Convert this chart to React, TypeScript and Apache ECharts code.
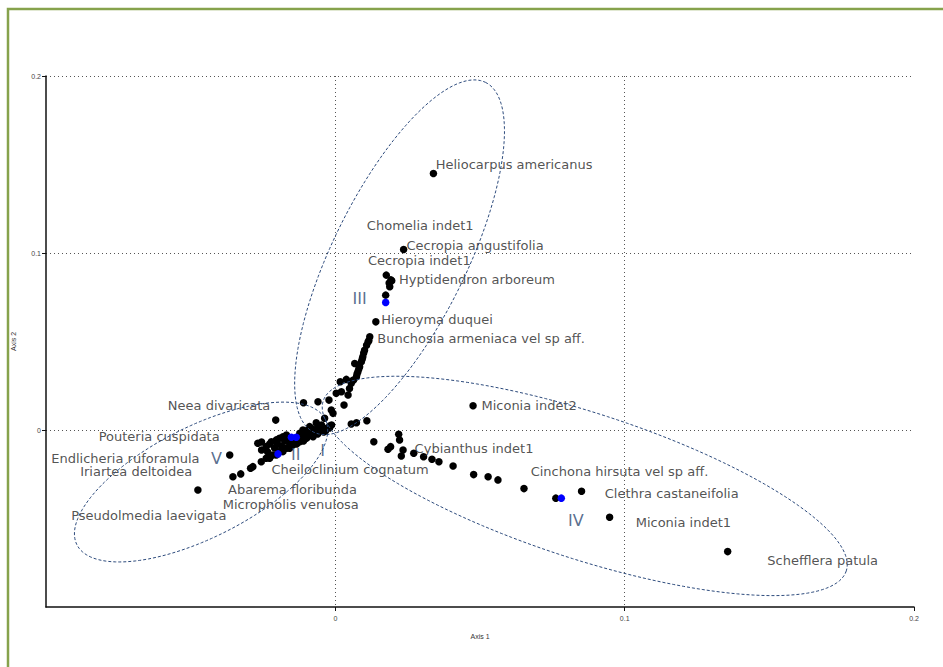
import React, { useEffect, useRef } from "react";
import * as echarts from "echarts";

// Species scores (Axis 1, Axis 2)
const pointX = [
  0.0339, 0.0236, 0.0176, 0.0195, 0.0186, 0.0188, 0.0192, 0.0174, 0.014, 0.0119, 0.0116, 0.0113, 0.0108,
  0.0101, 0.0098, 0.0095, 0.0093, 0.009, 0.0084, 0.0081, 0.0078, 0.0075, 0.0067, 0.0073, 0.0063, 0.0058,
  0.0055, 0.0049, 0.0038, 0.0017, 0.0021, 0.0003, 0.0044, -0.0022, 0.003, -0.006, -0.011, -0.0014, -0.0008,
  -0.0037, -0.0066, 0.0055, 0.0073, 0.0109, 0.0476, 0.0133, 0.0182, 0.0191, 0.0219, 0.0222, 0.0234, 0.0228,
  0.0271, 0.0305, 0.0334, 0.0358, 0.0407, 0.0478, 0.0528, 0.0562, 0.0652, 0.0762, 0.0851, 0.0948, 0.1356,
  -0.0206, -0.0365, -0.0354, -0.0327, -0.0293, -0.0285, -0.0475,
  -0.0268, -0.0255, -0.0239, -0.0221, -0.0204, -0.0193, -0.0181, -0.0169, -0.0161, -0.0123, -0.0106, -0.0095,
  -0.0083, -0.0072, -0.006, -0.0048, -0.0031, -0.0112, -0.0089, -0.0144, -0.0175, -0.0123, -0.011, -0.0096,
  -0.0082, -0.0077, -0.01, -0.0123, -0.0147, -0.0169, -0.0193, -0.0216, -0.0239, -0.0256, -0.0227, -0.0204,
  -0.0181, -0.0158, -0.0134, -0.011, -0.002, -0.0047, -0.0068, -0.0061, -0.004,
  -0.0255, -0.0234, -0.021, -0.0186, -0.0158, -0.0137, -0.0227, -0.02, -0.0165, -0.0117, -0.0096, -0.0075,
  -0.0054, -0.0034, -0.002, -0.0013,
];
const pointY = [
  0.1449, 0.102, 0.0875, 0.0843, 0.083, 0.0809, 0.0848, 0.0762, 0.0611, 0.0527, 0.0505, 0.0497, 0.0479,
  0.0451, 0.0435, 0.0414, 0.0401, 0.0385, 0.0357, 0.0344, 0.0329, 0.0316, 0.0376, 0.0301, 0.0282, 0.0277,
  0.0264, 0.0235, 0.0286, 0.0273, 0.0216, 0.0207, 0.0198, 0.0169, 0.0141, 0.016, 0.0154, 0.0113, 0.0094,
  0.0066, 0.0041, 0.0034, 0.0041, 0.0052, 0.0137, -0.0066, -0.0109, -0.0094, -0.0024, -0.0056, -0.0113, -0.0147,
  -0.0131, -0.0151, -0.0165, -0.0179, -0.0203, -0.0252, -0.0264, -0.0282, -0.0331, -0.0385, -0.0346, -0.0493, -0.0687,
  0.0056, -0.0141, -0.0264, -0.0248, -0.0216, -0.0207, -0.0339,
  -0.0075, -0.0068, -0.0094, -0.0066, -0.0056, -0.0047, -0.0038, -0.0028, -0.0045, -0.0019, -0.001, 0.0,
  0.001, 0.0, 0.0019, 0.0028, 0.001, 0.0, 0.0019, -0.0056, -0.0062, -0.004, -0.0034, -0.0023,
  -0.0017, -0.0038, -0.0047, -0.0066, -0.0085, -0.0103, -0.0122, -0.0141, -0.016, -0.0179, -0.016, -0.0141,
  -0.0122, -0.0103, -0.0079, -0.0062, 0.0023, 0.0, -0.0011, -0.0023, -0.0011,
  -0.0113, -0.0124, -0.0102, -0.009, -0.0073, -0.0056, -0.0079, -0.0079, -0.0062, -0.004, -0.004, -0.0023,
  -0.0006, -0.0006, 0.0011, 0.0028,
];

// Group centroids (blue)
const centroidX = [0.0174, 0.0781, -0.0198, -0.0152, -0.0135];
const centroidY = [0.0721, -0.0385, -0.0135, -0.0041, -0.0041];

// Species labels
const labelNames = [
  "Heliocarpus americanus", "Chomelia indet1", "Cecropia angustifolia", "Cecropia indet1",
  "Hyptidendron arboreum", "Hieroyma duquei", "Bunchosia armeniaca vel sp aff.", "Miconia indet2",
  "Neea divaricata", "Pouteria cuspidata", "Endlicheria ruforamula", "Iriartea deltoidea",
  "Cybianthus indet1", "Cheiloclinium cognatum", "Abarema floribunda", "Micropholis venulosa",
  "Pseudolmedia laevigata", "Cinchona hirsuta vel sp aff.", "Clethra castaneifolia", "Miconia indet1",
  "Schefflera patula",
];
const labelX = [
  0.0347, 0.0109, 0.0246, 0.0113, 0.022, 0.0159, 0.0145, 0.0505, -0.0579, -0.0818, -0.0982, -0.0882,
  0.0274, -0.0221, -0.0371, -0.0389, -0.0913, 0.0675, 0.0931, 0.1038, 0.1493,
];
const labelY = [
  0.1501, 0.1157, 0.1044, 0.0959, 0.0852, 0.0625, 0.0515, 0.0141, 0.0141, -0.0034, -0.016, -0.0235,
  -0.0103, -0.0222, -0.0335, -0.0423, -0.0485, -0.0235, -0.0361, -0.0525, -0.0738,
];

// Group names
const groupNames = ["I", "II", "III", "IV", "V"];
const groupX = [-0.0044, -0.0137, 0.0084, 0.0831, -0.0411];
const groupY = [-0.0113, -0.0141, 0.0745, -0.0512, -0.016];

// Ellipses: centre, first and second conjugate semi-axis vectors
const ellipseCX = [0.0222, 0.0862, -0.0464];
const ellipseCY = [0.0976, -0.0316, -0.0294];
const ellipseUX = [0.0297, 0.0904, 0.0429];
const ellipseUY = [0.0988, -0.048, 0.0355];
const ellipseVX = [0.0208, -0.0078, 0.0087];
const ellipseVY = [-0.0167, -0.0392, -0.0279];

const axisTicks = [0, 0.1, 0.2];

const FONT = "DejaVu Sans";

export default function App() {
  const ref = useRef<HTMLDivElement>(null);
  useEffect(() => {
    if (!ref.current) return;
    const chart = echarts.init(ref.current, null, { renderer: "svg" });
    const axisCommon = {
      type: "value",
      min: -0.1,
      max: 0.2,
      interval: 0.1,
      nameLocation: "middle",
      nameTextStyle: { fontFamily: "Liberation Sans", fontSize: 7, color: "#333" },
      axisLine: { show: true, onZero: false, lineStyle: { color: "#111", width: 1.5 } },
      axisTick: { show: true, length: 4, customValues: axisTicks, lineStyle: { color: "#111", width: 1 } },
      axisLabel: {
        show: true,
        customValues: axisTicks,
        fontFamily: "Liberation Sans",
        fontSize: 7,
        color: "#444",
        formatter: (v: number) => String(Math.round(v * 10) / 10),
      },
    };
    const gridLine = { type: [1, 3], color: "#555", width: 1 };
    chart.setOption({
      animation: false,
      backgroundColor: "#fff",
      grid: { left: 46, right: 29, top: 76, bottom: 60, containLabel: false, outerBoundsMode: "none" },
      graphic: [
        {
          type: "rect",
          shape: { x: 8, y: 9, width: 1200, height: 1200 },
          style: { fill: "none", stroke: "#86a24c", lineWidth: 2.5 },
          silent: true,
          z: 100,
        },
      ],
      xAxis: {
        ...axisCommon,
        name: "Axis 1",
        nameGap: 26,
        axisLabel: { ...axisCommon.axisLabel, margin: 8 },
        splitLine: { show: true, showMinLine: true, showMaxLine: false, lineStyle: gridLine },
      },
      yAxis: {
        ...axisCommon,
        name: "Axis 2",
        nameGap: 29,
        axisLabel: { ...axisCommon.axisLabel, margin: 5 },
        splitLine: { show: true, showMinLine: true, showMaxLine: true, lineStyle: gridLine },
      },
      series: [
        {
          type: "scatter",
          data: pointX.map((x, i) => [x, pointY[i]]),
          symbol: "circle",
          symbolSize: 7.5,
          itemStyle: { color: "#000", opacity: 1 },
          silent: true,
          z: 3,
        },
        {
          type: "scatter",
          data: centroidX.map((x, i) => [x, centroidY[i]]),
          symbol: "circle",
          symbolSize: 7.5,
          itemStyle: { color: "#0000ff", opacity: 1 },
          silent: true,
          z: 4,
        },
        {
          type: "scatter",
          data: labelX.map((x, i) => ({ value: [x, labelY[i]], name: labelNames[i] })),
          symbolSize: 0,
          silent: true,
          z: 5,
          label: {
            show: true,
            position: "right",
            distance: 0,
            formatter: (p: any) => p.name,
            fontFamily: FONT,
            fontSize: 13,
            color: "#262626",
          },
        },
        {
          type: "scatter",
          data: groupX.map((x, i) => ({ value: [x, groupY[i]], name: groupNames[i] })),
          symbolSize: 0,
          silent: true,
          z: 5,
          label: {
            show: true,
            position: "inside",
            formatter: (p: any) => p.name,
            fontFamily: FONT,
            fontSize: 16,
            color: "#2f4a72",
          },
        },
        {
          type: "custom",
          coordinateSystem: "cartesian2d",
          silent: true,
          z: 6,
          encode: { x: 0, y: 1 },
          data: ellipseCX.map((cx, i) => [cx, ellipseCY[i], ellipseUX[i], ellipseUY[i], ellipseVX[i], ellipseVY[i]]),
          renderItem: (params: any, api: any) => {
            const cx = api.value(0);
            const cy = api.value(1);
            const ux = api.value(2);
            const uy = api.value(3);
            const vx = api.value(4);
            const vy = api.value(5);
            const pts: number[][] = [];
            const n = 160;
            for (let k = 0; k <= n; k++) {
              const t = (k / n) * Math.PI * 2;
              pts.push(api.coord([cx + ux * Math.cos(t) + vx * Math.sin(t), cy + uy * Math.cos(t) + vy * Math.sin(t)]));
            }
            return {
              type: "polyline",
              shape: { points: pts },
              style: { stroke: "#2c4a7c", lineWidth: 1, lineDash: [3, 2], fill: null },
            };
          },
        },
      ],
    });
    return () => chart.dispose();
  }, []);
  return <div ref={ref} style={{ position: "fixed", left: 0, top: 0, width: 943, height: 667 }} />;
}
